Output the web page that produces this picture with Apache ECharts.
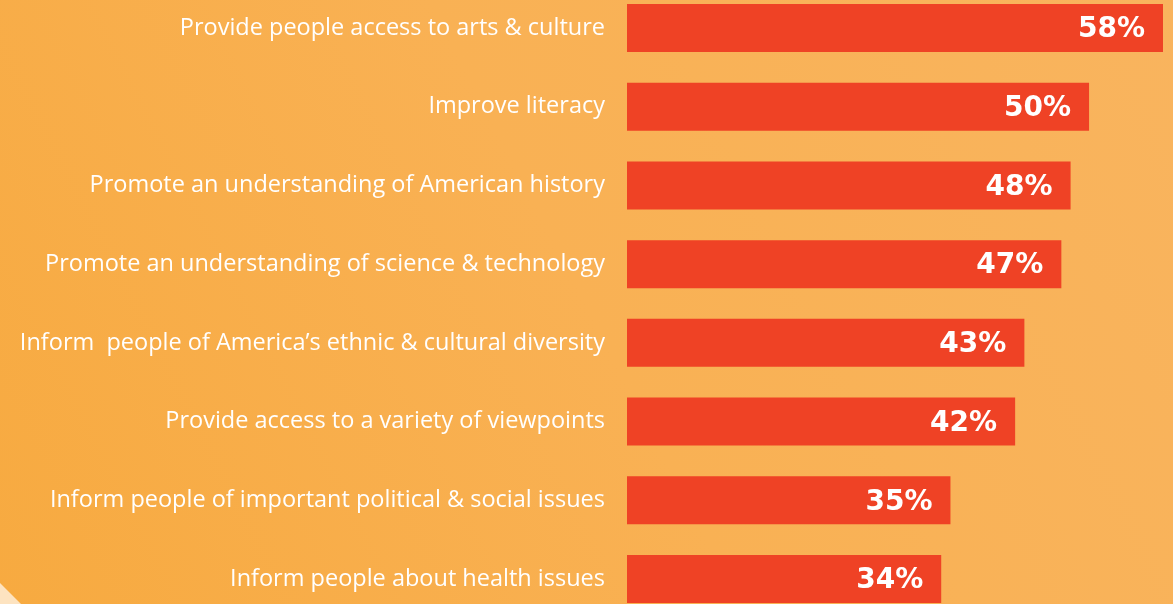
<!DOCTYPE html>
<html>
<head>
<meta charset="utf-8">
<script src="https://cdn.jsdelivr.net/npm/echarts@6/dist/echarts.min.js"></script>
<style>
  html, body { margin: 0; padding: 0; }
  #main { width: 1173px; height: 604px; }
</style>
</head>
<body>
<div id="main"></div>
<script>
// survey answers, top to bottom
const categories = [
  'Provide people access to arts & culture',
  'Improve literacy',
  'Promote an understanding of American history',
  'Promote an understanding of science & technology',
  'Inform  people of America\u2019s ethnic & cultural diversity',
  'Provide access to a variety of viewpoints',
  'Inform people of important political & social issues',
  'Inform people about health issues'
];
const values = [58, 50, 48, 47, 43, 42, 35, 34];

const chart = echarts.init(document.getElementById('main'));

chart.setOption({
  backgroundColor: {
    type: 'linear', x: 0, y: 1, x2: 1, y2: 0,
    colorStops: [
      { offset: 0, color: '#f7aa40' },
      { offset: 0.5, color: '#f9b154' },
      { offset: 1, color: '#f9b45e' }
    ]
  },
  graphic: [{
    type: 'polygon',
    silent: true,
    shape: { points: [[0, 583], [21, 604], [0, 604]] },
    style: { fill: '#fde3c0' }
  }],
  grid: { left: 627, right: 10, top: 28, bottom: 25 },
  xAxis: {
    type: 'value',
    min: 0,
    max: 58,
    show: false
  },
  yAxis: {
    type: 'category',
    inverse: true,
    boundaryGap: false,
    data: categories,
    axisLine: { show: false },
    axisTick: { show: false },
    splitLine: { show: false },
    axisLabel: {
      color: '#ffffff',
      fontFamily: 'Open Sans',
      fontSize: 23.5,
      margin: 22,
      padding: [4, 0, 0, 0]
    }
  },
  series: [{
    type: 'bar',
    data: values,
    barWidth: 48,
    itemStyle: { color: '#ef4225' },
    label: {
      show: true,
      position: 'insideRight',
      distance: 18,
      offset: [0, 2],
      formatter: '{c}%',
      color: '#ffffff',
      fontFamily: 'DejaVu Sans',
      fontWeight: 'bold',
      fontSize: 28
    },
    animation: false
  }]
});
</script>
</body>
</html>
